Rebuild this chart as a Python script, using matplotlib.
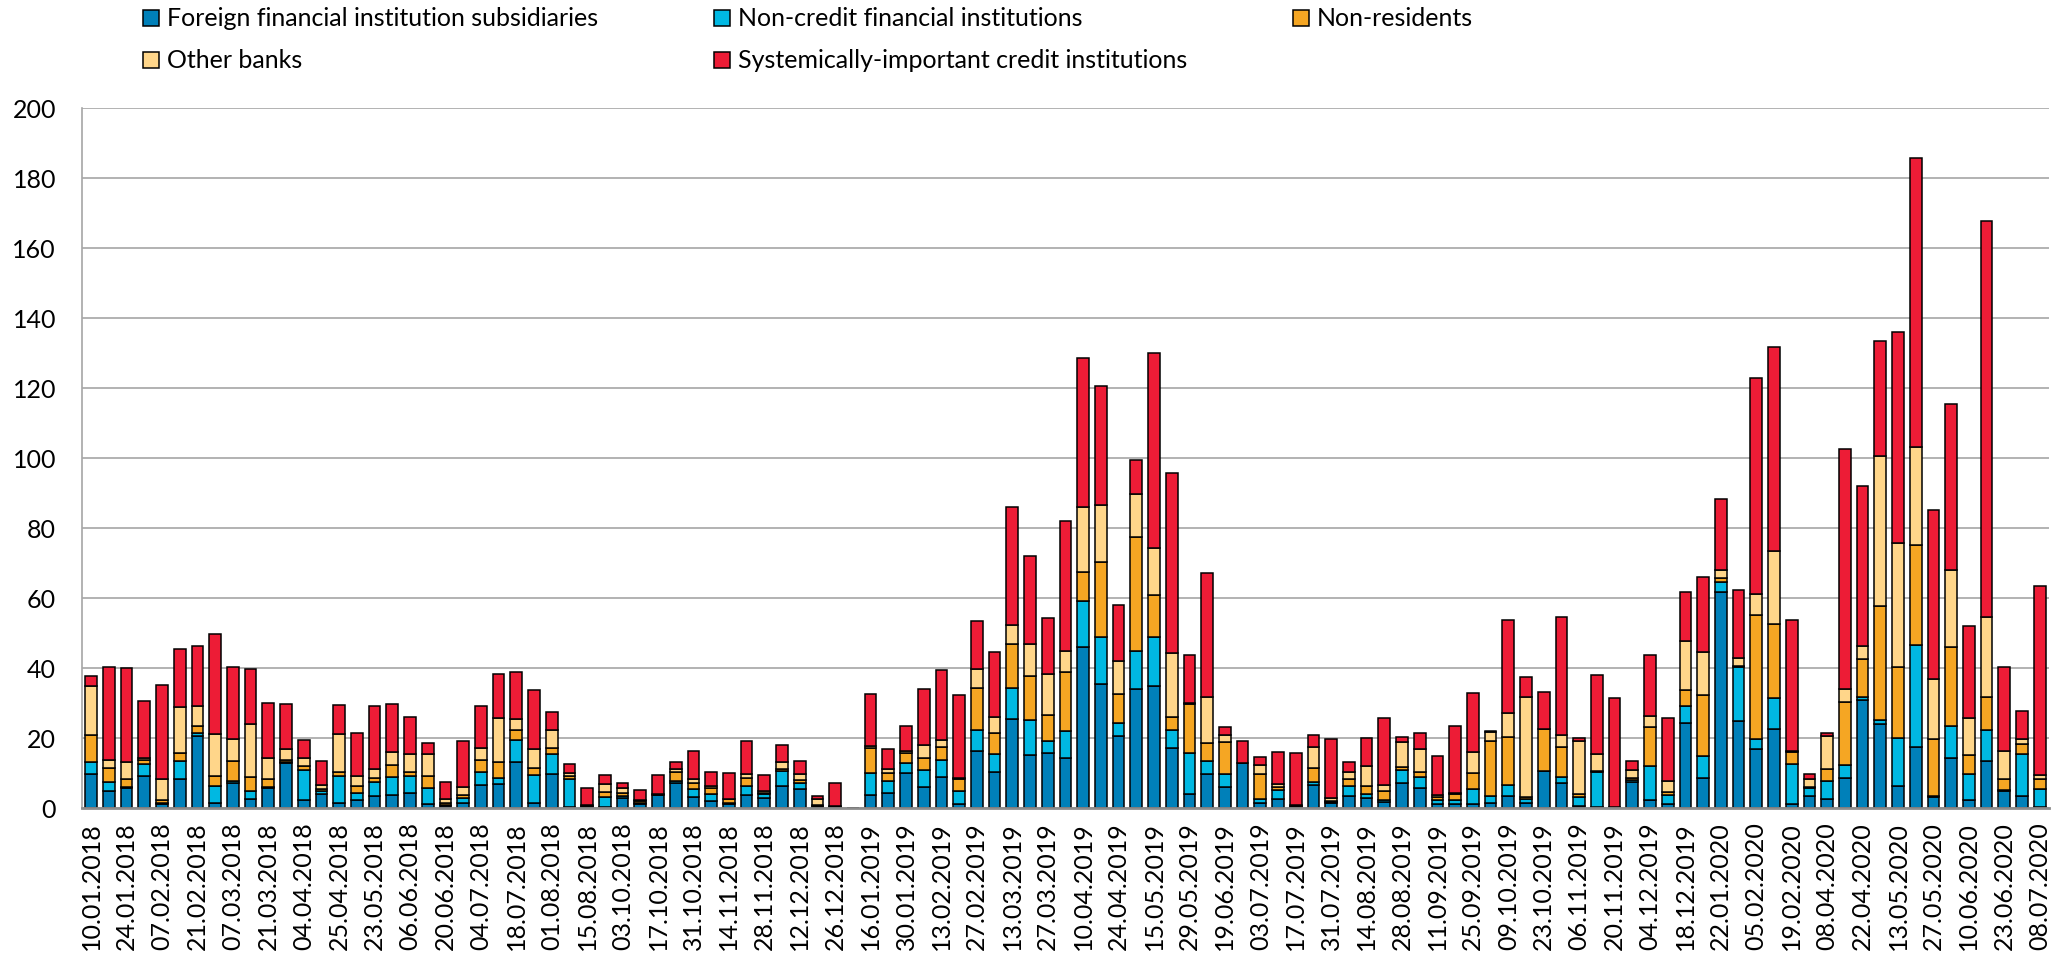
#importing the python libraries I will need
import matplotlib
matplotlib.use("Agg")
import matplotlib.pyplot as plt
from matplotlib.patches import Rectangle
import numpy as np

plt.rcParams['font.family'] = ['Lato', 'DejaVu Sans']

# dates of the auctions (every other one is shown on the axis)
dates = ['10.01.2018', '17.01.2018', '24.01.2018', '31.01.2018', '07.02.2018', '14.02.2018',
         '21.02.2018', '28.02.2018', '07.03.2018', '14.03.2018', '21.03.2018', '28.03.2018',
         '04.04.2018', '11.04.2018', '25.04.2018', '16.05.2018', '23.05.2018', '30.05.2018',
         '06.06.2018', '13.06.2018', '20.06.2018', '27.06.2018', '04.07.2018', '11.07.2018',
         '18.07.2018', '25.07.2018', '01.08.2018', '08.08.2018', '15.08.2018', '19.09.2018',
         '03.10.2018', '10.10.2018', '17.10.2018', '24.10.2018', '31.10.2018', '07.11.2018',
         '14.11.2018', '21.11.2018', '28.11.2018', '05.12.2018', '12.12.2018', '19.12.2018',
         '26.12.2018', '09.01.2019', '16.01.2019', '23.01.2019', '30.01.2019', '06.02.2019',
         '13.02.2019', '20.02.2019', '27.02.2019', '06.03.2019', '13.03.2019', '20.03.2019',
         '27.03.2019', '03.04.2019', '10.04.2019', '17.04.2019', '24.04.2019', '08.05.2019',
         '15.05.2019', '22.05.2019', '29.05.2019', '12.06.2019', '19.06.2019', '26.06.2019',
         '03.07.2019', '10.07.2019', '17.07.2019', '24.07.2019', '31.07.2019', '07.08.2019',
         '14.08.2019', '21.08.2019', '28.08.2019', '04.09.2019', '11.09.2019', '18.09.2019',
         '25.09.2019', '02.10.2019', '09.10.2019', '16.10.2019', '23.10.2019', '30.10.2019',
         '06.11.2019', '13.11.2019', '20.11.2019', '27.11.2019', '04.12.2019', '11.12.2019',
         '18.12.2019', '15.01.2020', '22.01.2020', '29.01.2020', '05.02.2020', '12.02.2020',
         '19.02.2020', '01.04.2020', '08.04.2020', '15.04.2020', '22.04.2020', '29.04.2020',
         '13.05.2020', '20.05.2020', '27.05.2020', '03.06.2020', '10.06.2020', '17.06.2020',
         '23.06.2020', '01.07.2020', '08.07.2020']

# values, one list per group of participants
foreign = [9.7, 4.6, 5.5, 8.9, 1.0, 8.1, 20.5, 1.4, 6.9, 2.4, 5.7, 12.6, 2.2, 3.9, 1.2,
           2.2, 3.3, 3.5, 4.1, 1.0, 0.5, 1.2, 6.4, 6.7, 13.0, 1.4, 9.7, 0.3, 0.2, 0.2,
           2.6, 1.1, 3.5, 7.1, 2.9, 1.9, 1.0, 3.6, 2.7, 6.2, 5.2, 0.3, 0.2, 0.0, 3.7,
           4.3, 10.0, 5.8, 8.7, 1.0, 16.3, 10.3, 25.3, 14.9, 15.5, 14.3, 45.8, 35.4, 20.4, 34.0,
           34.8, 16.9, 3.8, 9.7, 5.8, 12.7, 1.4, 2.5, 0.3, 6.5, 1.2, 3.3, 2.7, 1.5, 6.9,
           5.7, 1.0, 1.0, 1.1, 1.4, 3.3, 1.4, 10.4, 7.0, 0.5, 0.3, 0.2, 7.2, 2.2, 1.0,
           24.3, 8.5, 61.5, 24.7, 16.8, 22.5, 1.0, 3.3, 2.5, 8.5, 30.7, 24.0, 6.3, 17.2, 3.0,
           14.2, 2.2, 13.2, 4.8, 3.4, 0.2]
noncredit = [3.4, 2.8, 0.3, 3.5, 0.4, 5.2, 0.9, 4.8, 0.7, 2.4, 0.2, 0.5, 8.5, 0.7, 7.8,
             2.1, 4.0, 5.1, 4.9, 4.7, 0.2, 1.4, 3.7, 1.7, 6.3, 7.9, 5.7, 7.8, 0.0, 2.7,
             0.7, 0.3, 0.1, 0.4, 2.4, 2.1, 0.3, 2.6, 1.1, 4.3, 1.9, 0.1, 0.0, 0.0, 6.3,
             3.4, 2.6, 5.0, 4.8, 3.8, 5.8, 4.9, 9.0, 10.1, 3.4, 7.5, 13.3, 13.3, 3.7, 10.8,
             13.9, 5.2, 11.9, 3.6, 3.7, 0.0, 1.1, 2.6, 0.2, 0.8, 0.4, 3.0, 1.2, 0.7, 3.9,
             2.9, 1.2, 1.2, 4.2, 1.9, 3.1, 1.0, 0.1, 1.6, 2.4, 9.9, 0.0, 0.7, 9.8, 2.7,
             4.6, 6.2, 3.0, 15.5, 2.7, 8.7, 11.4, 2.4, 5.0, 3.8, 0.8, 1.0, 13.5, 29.3, 0.2,
             9.0, 7.5, 9.0, 0.2, 12.0, 5.0]
nonres = [7.7, 3.8, 2.5, 1.2, 0.7, 2.4, 1.9, 2.8, 5.7, 4.0, 2.2, 0.6, 1.2, 0.8, 1.2,
          1.9, 1.2, 3.6, 1.3, 3.2, 0.5, 0.9, 3.5, 4.7, 2.9, 1.9, 1.6, 0.8, 0.2, 1.6,
          1.0, 0.4, 0.1, 2.7, 1.7, 1.5, 1.1, 2.3, 0.5, 0.6, 0.8, 0.4, 0.1, 0.0, 7.0,
          2.3, 2.9, 3.5, 3.8, 3.5, 12.2, 6.1, 12.4, 12.5, 7.6, 16.8, 8.3, 21.5, 8.3, 32.6,
          12.1, 3.9, 13.9, 5.2, 9.2, 0.0, 7.0, 0.8, 0.1, 4.1, 0.4, 1.8, 2.4, 2.4, 0.7,
          1.6, 0.7, 1.7, 4.7, 15.8, 13.7, 0.7, 11.9, 8.8, 0.9, 0.3, 0.0, 0.6, 10.9, 0.8,
          4.8, 17.5, 1.0, 0.3, 35.5, 21.3, 3.6, 0.3, 3.4, 18.0, 10.9, 32.7, 20.5, 28.5, 16.3,
          22.8, 5.3, 9.3, 3.2, 2.9, 3.0]
other = [14.0, 2.4, 4.6, 0.7, 6.2, 12.9, 5.7, 12.0, 6.4, 15.0, 6.0, 3.0, 2.4, 1.0, 10.9,
         2.8, 2.5, 3.7, 5.1, 6.5, 1.2, 2.3, 3.4, 12.5, 3.1, 5.5, 5.1, 0.9, 0.4, 2.1,
         1.2, 0.5, 0.1, 0.7, 1.3, 0.7, 0.1, 1.0, 0.4, 1.9, 1.8, 1.6, 0.1, 0.0, 0.5,
         1.0, 0.7, 3.5, 2.0, 0.2, 5.4, 4.7, 5.5, 9.1, 11.8, 6.0, 18.4, 16.2, 9.5, 12.3,
         13.3, 18.3, 0.4, 13.1, 1.9, 0.0, 2.8, 0.8, 0.1, 6.0, 0.7, 2.2, 5.7, 1.9, 7.3,
         6.5, 0.6, 0.4, 5.8, 2.4, 6.8, 28.4, 0.1, 3.3, 15.3, 4.9, 0.0, 2.3, 3.3, 3.0,
         13.8, 12.3, 2.3, 2.2, 6.0, 20.8, 0.3, 2.2, 9.6, 3.7, 3.8, 42.7, 35.4, 28.1, 17.2,
         21.8, 10.5, 22.8, 8.0, 1.2, 1.2]
sici = [2.8, 26.6, 27.0, 16.1, 26.8, 16.8, 17.3, 28.7, 20.5, 15.9, 15.8, 13.0, 4.9, 6.9, 8.1,
        12.2, 18.0, 13.8, 10.4, 3.1, 4.9, 13.2, 11.9, 12.7, 13.5, 17.0, 5.1, 2.6, 4.8, 2.7,
        1.5, 2.6, 5.5, 2.1, 7.9, 3.9, 7.3, 9.4, 4.7, 5.0, 3.6, 0.9, 6.7, 0.0, 15.0,
        5.7, 7.0, 16.1, 20.0, 23.8, 13.7, 18.4, 33.6, 25.4, 15.8, 37.4, 42.7, 34.0, 15.9, 9.6,
        55.7, 51.4, 13.7, 35.3, 2.4, 6.2, 2.1, 9.1, 14.8, 3.2, 16.9, 2.6, 7.8, 19.2, 1.4,
        4.5, 11.3, 19.1, 17.0, 0.5, 26.6, 5.9, 10.5, 33.7, 0.8, 22.4, 31.0, 2.4, 17.3, 18.0,
        14.0, 21.3, 20.4, 19.5, 61.8, 58.2, 37.2, 1.5, 0.8, 68.4, 45.6, 33.0, 60.3, 82.4, 48.3,
        47.6, 26.5, 113.3, 24.0, 8.2, 53.9]

labels = ['Foreign financial institution subsidiaries', 'Non-credit financial institutions',
          'Non-residents', 'Other banks', 'Systemically-important credit institutions']
colors = ['#0080b9', '#00b8e2', '#f5a623', '#ffd68a', '#ed1c36']
series = [foreign, noncredit, nonres, other, sici]

fig = plt.figure(figsize=(20.69, 9.62), dpi=100)
ax = fig.add_axes([0.0398, 0.1595, 0.9503, 0.7277])

# stacked bars
x = np.arange(len(dates))
bottom = np.zeros(len(dates))
for vals, col in zip(series, colors):
    vals = np.array(vals)
    ax.bar(x, vals, 0.66, bottom=bottom, color=col, edgecolor='black',
           linewidth=1.1, zorder=3)
    bottom = bottom + vals

ax.set_xlim(-0.5, len(dates) - 0.5)
ax.set_ylim(0, 200)
ax.set_yticks(range(0, 201, 20))
ax.set_xticks(x[::2])
ax.set_xticklabels(dates[::2], rotation=90)
ax.tick_params(axis='both', length=0, labelsize=18)
ax.tick_params(axis='y', pad=19)
ax.tick_params(axis='x', pad=10)
ax.grid(axis='y', color='#a6a6a6', linewidth=1.2, zorder=0)
for s in ['top', 'right']:
    ax.spines[s].set_visible(False)
ax.spines['left'].set_color('#a6a6a6')
ax.spines['left'].set_linewidth(1.2)
ax.spines['bottom'].set_color('#8c8c8c')
ax.spines['bottom'].set_linewidth(2)
ax.spines['bottom'].set_zorder(4)

# legend drawn by hand so the columns are evenly spaced like in excel
W, H = 2069.0, 962.0
legpos = [(143, 19), (714, 19), (1293, 19), (143, 61), (714, 61)]
for (px, py), lab, col in zip(legpos, labels, colors):
    fig.patches.append(Rectangle((px / W, (H - py - 8) / H), 16 / W, 16 / H,
                                 transform=fig.transFigure, facecolor=col,
                                 edgecolor='black', linewidth=1.1))
    fig.text((px + 24) / W, (H - py) / H, lab, fontsize=18, va='center', ha='left')

fig.savefig('out.png', dpi=100)
